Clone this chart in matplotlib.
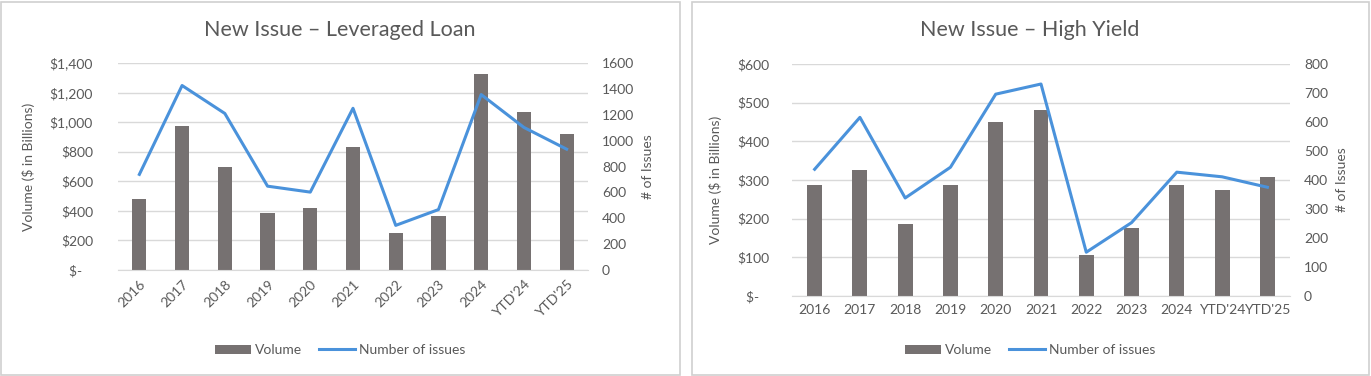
import matplotlib
matplotlib.use("Agg")
import matplotlib.pyplot as plt
from matplotlib.patches import Rectangle
from matplotlib.ticker import FuncFormatter
import numpy as np

plt.rcParams['font.family'] = ['Lato', 'DejaVu Sans']

categories = ["2016", "2017", "2018", "2019", "2020", "2021", "2022", "2023", "2024", "YTD'24", "YTD'25"]

ll_volume = [481, 975, 700, 387, 421, 833, 247, 363, 1327, 1069, 917]
ll_issues = [739, 1426, 1210, 648, 602, 1250, 345, 467, 1356, 1102, 934]

hy_volume = [287, 326, 187, 287, 451, 482, 106, 177, 288, 275, 308]
hy_issues = [437, 616, 338, 444, 696, 731, 151, 253, 427, 411, 375]

BAR = '#767171'
LINE = '#4A92DB'
TXT = '#595959'
GRID = '#D9D9D9'

W, H = 1371, 376
fig = plt.figure(figsize=(W / 100, H / 100), dpi=100)

# panel borders
for x0, x1 in [(1, 680), (692, 1369)]:
    fig.patches.append(Rectangle((x0 / W, 1 / H), (x1 - x0) / W, (H - 3) / H,
                                 transform=fig.transFigure, fill=False,
                                 edgecolor='#D0D0D0', linewidth=1.2))


def money(v, pos):
    if v == 0:
        return "$-   "
    return "${:,.0f}".format(v)


def make_panel(rect, title, vol, iss, vmax, vstep, imax, istep, rotate, title_x,
               legend_y, ypad, ylab_x):
    ax = fig.add_axes(rect)
    x = np.arange(len(categories))
    ax.bar(x, vol, width=0.33, color=BAR, zorder=2, label='Volume')
    ax.set_ylim(0, vmax)
    ax.set_yticks(np.arange(0, vmax + 1, vstep))
    ax.yaxis.set_major_formatter(FuncFormatter(money))
    ax.set_xlim(-0.5, len(categories) - 0.5)
    ax.set_xticks(x)
    if rotate:
        ax.set_xticklabels(categories, rotation=45, ha='right', rotation_mode='anchor')
    else:
        ax.set_xticklabels(categories)
    ax.grid(axis='y', color=GRID, linewidth=1, zorder=0)
    for s in ['top', 'right', 'left']:
        ax.spines[s].set_visible(False)
    ax.spines['bottom'].set_color(GRID)
    ax.tick_params(axis='both', length=0, colors=TXT, labelsize=10)
    ax.tick_params(axis='y', pad=ypad)
    ax.tick_params(axis='x', pad=6)
    ax.set_ylabel('Volume ($ in Billions)', color=TXT, fontsize=10)
    ax.yaxis.set_label_coords(ylab_x, 0.5)

    ax2 = ax.twinx()
    ax2.plot(x, iss, color=LINE, linewidth=2.2, zorder=3, label='Number of issues')
    ax2.set_ylim(0, imax)
    ax2.set_yticks(np.arange(0, imax + 1, istep))
    for s in ['top', 'right', 'left', 'bottom']:
        ax2.spines[s].set_visible(False)
    ax2.tick_params(axis='y', length=0, colors=TXT, labelsize=10, pad=10)
    ax2.set_ylabel('# of Issues', color=TXT, fontsize=10, labelpad=6)

    fig.text(title_x, 0.92, title, ha='center', va='center', fontsize=15.5, color=TXT)

    h1, l1 = ax.get_legend_handles_labels()
    h2, l2 = ax2.get_legend_handles_labels()
    fig.legend(h1 + h2, l1 + l2, loc='center', bbox_to_anchor=(title_x, legend_y),
               ncol=2, frameon=False, fontsize=10, labelcolor=TXT,
               handlelength=2.6, handleheight=0.6, columnspacing=1.2, handletextpad=0.3)
    return ax, ax2


make_panel([118 / W, 1 - 270 / H, 470 / W, (270 - 63) / H], 'New Issue \u2013 Leveraged Loan',
           ll_volume, ll_issues, 1400, 200, 1600, 200, True, 340 / W, 1 - 350 / H,
           18, (35 - 118) / 470)
make_panel([792 / W, 1 - 296 / H, 498 / W, (296 - 64) / H], 'New Issue \u2013 High Yield',
           hy_volume, hy_issues, 600, 100, 800, 100, False, 1030 / W, 1 - 350 / H,
           16, (722 - 792) / 498)

fig.savefig('out.png', dpi=100)
